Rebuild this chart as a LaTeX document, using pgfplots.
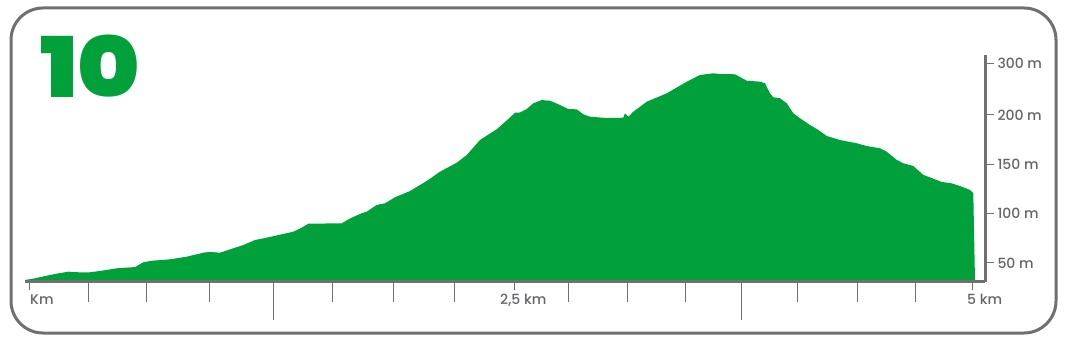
\documentclass[border=0pt]{standalone}
\usepackage{graphicx}
\usepackage{pgfplots}
\pgfplotsset{compat=1.18}
\usepackage{fontspec}
\setmainfont{Poppins}
\newfontfamily\tenfont{Poppins Black}
\newfontfamily\labelfont{Poppins Medium}
\definecolor{profgreen}{RGB}{0,161,58}
\definecolor{framegray}{RGB}{112,112,112}
\definecolor{labelgray}{RGB}{100,101,106}
\begin{document}
\begin{tikzpicture}[x=1pt,y=1pt]
\useasboundingbox (0,0) rectangle (1066,343);
\draw[framegray, line width=3pt, rounded corners=32pt] (11,10) rectangle (1056,335);
\node[anchor=base west, inner sep=0pt, text=profgreen, font=\tenfont\fontsize{90}{90}\selectfont] at (40,245) {\scalebox{1.05}[0.93]{10}};
\begin{axis}[
  at={(25pt,61pt)}, anchor=south west,
  scale only axis, width=960pt, height=227pt,
  xmin=-0.0265, xmax=5.069, ymin=30.75, ymax=260.74,
  clip mode=individual,
  axis x line*=bottom, axis y line*=right,
  axis on top=true,
  axis line style={-, line width=3pt, framegray},
  xtick={0.313,0.621,0.955,1.608,1.927,2.251,2.856,3.174,3.477,4.076,4.390,4.698},
  xticklabels={},
  extra x ticks={1.290,3.779}, extra x tick labels={},
  extra x tick style={major tick length=38pt},
  minor xtick={0,2.569,5},
  major tick length=20pt, minor tick length=8.5pt,
  tick align=outside,
  tick style={framegray, line width=1pt},
  ytick={50,100,150,200,252.6},
  minor ytick={50,100,150,200,252.6},
  every major y tick/.append style={draw=none},
  yticklabels={50 m,100 m,150 m,200 m,300 m},
  yticklabel style={anchor=west, xshift=-11pt, font=\labelfont\fontsize{14}{16}\selectfont, text=labelgray},
]
\addplot[fill=profgreen, draw=none] coordinates {
(-0.0265,30.75) (-0.0265,32.8) (0.0265,34.5) (0.0796,36.8) (0.1417,39.2) (0.2033,41.2)
(0.2564,40.6) (0.3185,40.6) (0.3806,42.2) (0.4602,44.6) (0.5573,45.9) (0.6014,50.7)
(0.6460,52.3) (0.7431,53.7) (0.8318,56.4) (0.9289,60.8) (0.9645,61.1) (1.0085,60.4)
(1.0791,64.9) (1.1322,68.2) (1.1943,73.3) (1.2649,76.0) (1.3270,78.7) (1.3976,81.7)
(1.4422,85.8) (1.4772,89.8) (1.5393,89.8) (1.5924,90.2) (1.6545,90.2) (1.6985,95.1)
(1.7606,100.4) (1.7872,102.0) (1.8402,108.8) (1.8843,110.5) (1.9374,116.6) (2.0170,122.9)
(2.1056,133.1) (2.1762,142.5) (2.2649,151.6) (2.3180,159.4) (2.3885,174.6) (2.4772,185.5)
(2.5388,195.9) (2.5743,202.3) (2.6009,202.5) (2.6364,206.0) (2.6715,211.8) (2.7161,215.1)
(2.7601,214.4) (2.8132,210.1) (2.8572,206.0) (2.9018,205.7) (2.9368,200.7) (2.9724,198.2)
(3.0610,196.9) (3.1491,197.2) (3.1581,201.7) (3.1757,198.2) (3.2022,203.3) (3.2734,213.4)
(3.3795,221.9) (3.4857,233.7) (3.5563,240.5) (3.6269,242.2) (3.6624,241.5) (3.7420,241.2)
(3.8042,234.7) (3.8748,233.7) (3.9013,232.1) (3.9279,221.9) (3.9454,217.9) (3.9810,216.9)
(4.0165,211.8) (4.0515,201.7) (4.0871,196.6) (4.1401,189.8) (4.1842,184.8) (4.2288,178.7)
(4.2994,174.6) (4.3880,171.3) (4.4411,168.5) (4.5117,166.2) (4.5473,162.8) (4.6004,154.4)
(4.6354,151.0) (4.6885,148.3) (4.7415,139.2) (4.7771,136.8) (4.8392,132.1) (4.8923,130.7)
(4.9363,128.0) (4.9894,124.0) (5.0069,120.6) (5.016,30.75)
} \closedcycle;
\node[anchor=base west, inner sep=0pt, text=labelgray, font=\labelfont\fontsize{14}{16}\selectfont] at (axis cs:0,30.75) [yshift=-22pt] {Km};
\node[anchor=base west, inner sep=0pt, text=labelgray, font=\labelfont\fontsize{14}{16}\selectfont] at (axis cs:2.4947,30.75) [yshift=-22pt] {2,5 km};
\node[anchor=base west, inner sep=0pt, text=labelgray, font=\labelfont\fontsize{14}{16}\selectfont] at (axis cs:4.9735,30.75) [yshift=-22pt] {5 km};
\end{axis}
\end{tikzpicture}
\end{document}
